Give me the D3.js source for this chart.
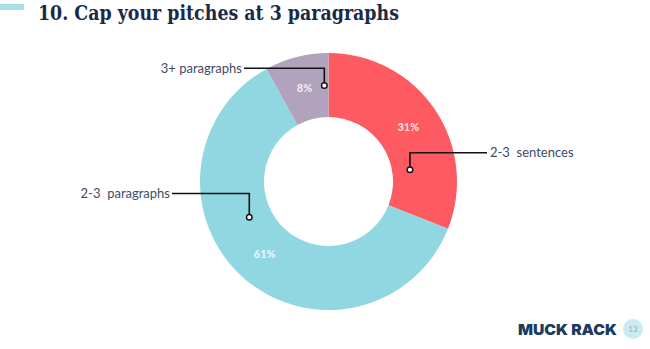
<!doctype html>
<html lang="en">
<head>
<meta charset="utf-8">
<title>Cap your pitches at 3 paragraphs</title>
<style>
  body { margin: 0; background: #ffffff; }
  svg { display: block; }
</style>
</head>
<body>
<script src="https://cdn.jsdelivr.net/npm/d3@7"></script>
<script>
// data
var categories = ["2-3 sentences", "2-3 paragraphs", "3+ paragraphs"];
var values = [31, 61, 8];
var valueLabels = ["31%", "61%", "8%"];
var colors = ["#fe5a62", "#90d7e2", "#b1a2bd"];

var w = 650, h = 349;
var cx = 328.5, cy = 181.5;
var outerR = 128.5, innerR = 64.5;

var svg = d3.select("body").append("svg")
  .attr("width", w)
  .attr("height", h);

// top accent bar + title
svg.append("rect")
  .attr("x", 0).attr("y", 4)
  .attr("width", 24).attr("height", 6)
  .attr("fill", "#a9dfe8");

svg.append("text")
  .attr("x", 38).attr("y", 20)
  .attr("font-family", "'DejaVu Serif', serif")
  .attr("font-weight", "bold")
  .attr("font-size", 20)
  .attr("textLength", 361)
  .attr("lengthAdjust", "spacingAndGlyphs")
  .attr("fill", "#1b2a47")
  .text("10. Cap your pitches at 3 paragraphs");

// donut
var pie = d3.pie().sort(null).value(function(d) { return d; });
var arcs = pie(values);
var arc = d3.arc().innerRadius(innerR).outerRadius(outerR);
var labelArc = d3.arc().innerRadius(96.5).outerRadius(96.5);

var g = svg.append("g").attr("transform", "translate(" + cx + "," + cy + ")");

g.selectAll("path.slice")
  .data(arcs)
  .enter().append("path")
  .attr("class", "slice")
  .attr("d", arc)
  .attr("fill", function(d, i) { return colors[i]; });

g.selectAll("text.pct")
  .data(arcs)
  .enter().append("text")
  .attr("class", "pct")
  .attr("transform", function(d) {
    var c = labelArc.centroid(d);
    return "translate(" + c[0] + "," + (c[1] + 4) + ")";
  })
  .attr("text-anchor", "middle")
  .attr("font-family", "Lato, 'Open Sans', sans-serif")
  .attr("font-weight", "bold")
  .attr("font-size", 11)
  .attr("fill", "#ffffff")
  .attr("fill-opacity", 0.85)
  .text(function(d, i) { return valueLabels[i]; });

// callouts: dot angle (deg from top, clockwise), dot radius, elbow y, line end x
var callouts = [
  { angle: 81.8, r: 82.3, elbowY: 152.7, lineEnd: 487, textX: 490, anchor: "start" },
  { angle: 245.7, r: 86.9, elbowY: 193.5, lineEnd: 172, textX: 170, anchor: "end" },
  { angle: 357.5, r: 96, elbowY: 68.3, lineEnd: 244, textX: 242, anchor: "end" }
];

callouts.forEach(function(c, i) {
  var a = c.angle * Math.PI / 180;
  var px = cx + c.r * Math.sin(a);
  var py = cy - c.r * Math.cos(a);
  svg.append("path")
    .attr("d", "M" + px + "," + (py - 3) + "V" + c.elbowY + "H" + c.lineEnd)
    .attr("fill", "none")
    .attr("stroke", "#111111")
    .attr("stroke-width", 1.6);
  svg.append("circle")
    .attr("cx", px).attr("cy", py).attr("r", 2.8)
    .attr("fill", "#ffffff")
    .attr("stroke", "#111111")
    .attr("stroke-width", 1.4);
  svg.append("text")
    .attr("x", c.textX).attr("y", c.elbowY + 4.5)
    .attr("text-anchor", c.anchor)
    .attr("font-family", "Lato, 'Open Sans', sans-serif")
    .attr("font-size", 13)
    .attr("fill", "#3f4b66")
    .attr("xml:space", "preserve")
    .text(categories[i].replace("2-3 ", "2-3  "));
});

// footer logo
svg.append("text")
  .attr("x", 518).attr("y", 335)
  .attr("font-family", "Inter, 'Open Sans', sans-serif")
  .attr("font-weight", 900)
  .attr("font-size", 15)
  .attr("textLength", 99)
  .attr("lengthAdjust", "spacingAndGlyphs")
  .attr("fill", "#1c3b60")
  .text("MUCK RACK");

svg.append("circle")
  .attr("cx", 633).attr("cy", 329).attr("r", 10)
  .attr("fill", "#c9ebf1");

svg.append("text")
  .attr("x", 633).attr("y", 332)
  .attr("text-anchor", "middle")
  .attr("font-family", "Lato, sans-serif")
  .attr("font-size", 8)
  .attr("fill", "#8fb0ba")
  .text("13");
</script>
</body>
</html>
